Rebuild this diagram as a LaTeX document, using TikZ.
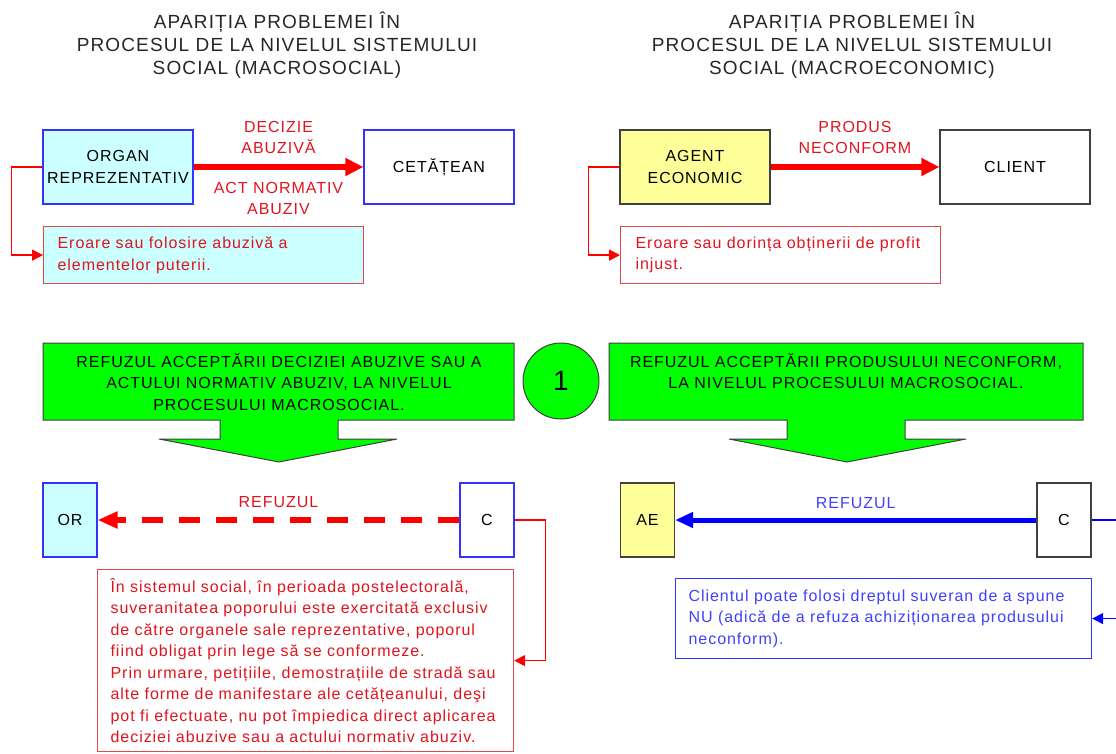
\documentclass[tikz,border=0pt]{standalone}
\usepackage{fontspec}
\setmainfont{Liberation Sans}[LetterSpace=6]
\usetikzlibrary{arrows.meta}

\definecolor{boxcyan}{HTML}{CCFFFF}
\definecolor{boxyellow}{HTML}{FFFF99}
\definecolor{linkred}{HTML}{FF0000}
\definecolor{txtred}{HTML}{E0141E}
\definecolor{edgered}{HTML}{E04848}
\definecolor{edgeblue}{HTML}{3333FF}
\definecolor{txtblue}{HTML}{4040FF}
\definecolor{linkblue}{HTML}{0000FF}
\definecolor{arrowgreen}{HTML}{00FF00}
\definecolor{edgegray}{HTML}{404040}

\begin{document}
\begin{tikzpicture}[x=1pt, y=-1pt,
  every node/.style={font=\fontsize{16}{21.5}\selectfont, inner sep=0pt, align=center},
  title/.style={font=\fontsize{19}{23}\selectfont, text=black!85},
  box/.style={draw, line width=1.2pt, minimum width=150pt, minimum height=74pt},
  smallbox/.style={draw, line width=1.2pt, minimum width=54pt, minimum height=74pt},
  notebox/.style={draw, line width=1.2pt, align=left, inner xsep=14pt, anchor=north west},
  bigarrow/.style={line width=6pt, -{Triangle[length=18pt,width=17pt]}},
  dasharrow/.style={line width=6pt, dash pattern=on 21pt off 16pt, -{Triangle[length=20pt,width=16pt]}},
  elbow/.style={line width=1.5pt, -{Triangle[length=11pt,width=11pt]}},
  block/.style={fill=arrowgreen, draw=edgegray, line width=1pt}
]

\useasboundingbox (0,0) rectangle (1116,753);
\clip (0,0) rectangle (1116,753);

%%%%%%%%%%%%%%%%%%%%%%%%%%%%%%%%%%%%%%%%%%%%%%%%%%%%%%%%%%%%%%%%%%%%%%%%%%%%%%%
\node (titleSoc) at (277,45) [title] {APARIȚIA PROBLEMEI ÎN\\PROCESUL DE LA NIVELUL SISTEMULUI\\SOCIAL (MACROSOCIAL)};
\node (titleEco) at (852,45) [title] {APARIȚIA PROBLEMEI ÎN\\PROCESUL DE LA NIVELUL SISTEMULUI\\SOCIAL (MACROECONOMIC)};

%%%%%%%%%%%%%%%%%%%%%%%%%%%%%%%%%%%%%%%%%%%%%%%%%%%%%%%%%%%%%%%%%%%%%%%%%%%%%%%
\node (organ) at (118,167) [box, draw=edgeblue, fill=boxcyan] {ORGAN\\REPREZENTATIV};
\node (cetatean) at (439,167) [box, draw=edgeblue] {CETĂȚEAN};
\node (eroareSoc) at (43,226) [notebox, draw=edgered, fill=boxcyan, text=txtred, text width=292pt, minimum height=57pt]
  {Eroare sau folosire abuzivă a\\elementelor puterii.};

\draw [bigarrow, linkred] (organ) -- node [above=10pt, text=txtred] {DECIZIE\\ABUZIVĂ}
  node [below=12pt, text=txtred] {ACT NORMATIV\\ABUZIV} (cetatean);
\draw [elbow, linkred] (organ.west) -- ++(-31,0) |- (eroareSoc.west);

%%%%%%%%%%%%%%%%%%%%%%%%%%%%%%%%%%%%%%%%%%%%%%%%%%%%%%%%%%%%%%%%%%%%%%%%%%%%%%%
\node (agent) at (695,167) [box, draw=edgegray, fill=boxyellow] {AGENT\\ECONOMIC};
\node (client) at (1015,167) [box, draw=edgegray] {CLIENT};
\node (eroareEco) at (620,226) [notebox, draw=edgered, text=txtred, text width=290pt, inner xsep=15pt, minimum height=57pt]
  {Eroare sau dorința obținerii de profit\\injust.};

\draw [bigarrow, linkred] (agent) -- node [above=10pt, text=txtred] {PRODUS\\NECONFORM} (client);
\draw [elbow, linkred] (agent.west) -- ++(-31,0) |- (eroareEco.west);

%%%%%%%%%%%%%%%%%%%%%%%%%%%%%%%%%%%%%%%%%%%%%%%%%%%%%%%%%%%%%%%%%%%%%%%%%%%%%%%
\path [block] (43,343) -- (514,343) -- (514,420) -- (338,420) -- (338,439) -- (397,439)
  -- (279,462) -- (159,439) -- (220,439) -- (220,420) -- (43,420) -- cycle;
\node (refuzSoc) at (279,353) [anchor=north] {REFUZUL ACCEPTĂRII DECIZIEI ABUZIVE SAU A\\ACTULUI NORMATIV ABUZIV, LA NIVELUL\\PROCESULUI MACROSOCIAL.};

\node (unu) at (561,381) [circle, draw=edgegray, fill=arrowgreen, line width=1pt, minimum size=76pt,
  font=\fontsize{28}{30}\selectfont] {1};

\path [block] (609,343) -- (1083,343) -- (1083,420) -- (905,420) -- (905,439) -- (966,439)
  -- (847,462) -- (729,439) -- (787,439) -- (787,420) -- (609,420) -- cycle;
\node (refuzEco) at (846,353) [anchor=north] {REFUZUL ACCEPTĂRII PRODUSULUI NECONFORM,\\LA NIVELUL PROCESULUI MACROSOCIAL.};

%%%%%%%%%%%%%%%%%%%%%%%%%%%%%%%%%%%%%%%%%%%%%%%%%%%%%%%%%%%%%%%%%%%%%%%%%%%%%%%
\node (or) at (70,520) [smallbox, draw=edgeblue, fill=boxcyan] {OR};
\node (cSoc) at (487,520) [smallbox, draw=edgeblue] {C};
\node (explSoc) at (97,569) [notebox, draw=edgered, text=txtred, text width=390pt, inner xsep=13pt, minimum height=182pt]
  {În sistemul social, în perioada postelectorală,\\
   suveranitatea poporului este exercitată exclusiv\\
   de către organele sale reprezentative, poporul\\
   fiind obligat prin lege să se conformeze.\\
   Prin urmare, petițiile, demostrațiile de stradă sau\\
   alte forme de manifestare ale cetățeanului, deşi\\
   pot fi efectuate, nu pot împiedica direct aplicarea\\
   deciziei abuzive sau a actului normativ abuziv.};

\draw [dasharrow, linkred] (cSoc) -- node [above=9pt, text=txtred] {REFUZUL} (or);
\draw [elbow, linkred] (cSoc.east) -- ++(31,0) |- (explSoc.east);

%%%%%%%%%%%%%%%%%%%%%%%%%%%%%%%%%%%%%%%%%%%%%%%%%%%%%%%%%%%%%%%%%%%%%%%%%%%%%%%
\node (ae) at (647.5,520) [smallbox, draw=edgegray, fill=boxyellow] {AE};
\node (cEco) at (1064,520) [smallbox, draw=edgegray] {C};
\node (explEco) at (675,578) [notebox, draw=edgeblue, text=txtblue, text width=390pt, inner xsep=13pt, minimum height=80pt]
  {Clientul poate folosi dreptul suveran de a spune\\
   NU (adică de a refuza achiziționarea produsului\\
   neconform).};

\draw [line width=5pt, linkblue, -{Triangle[length=18pt,width=15pt]}] (cEco) -- node [above=9pt, text=txtblue] {REFUZUL} (ae);
\draw [elbow, linkblue] (cEco.east) -- ++(45,0) |- (explEco.east);

\end{tikzpicture}
\end{document}
